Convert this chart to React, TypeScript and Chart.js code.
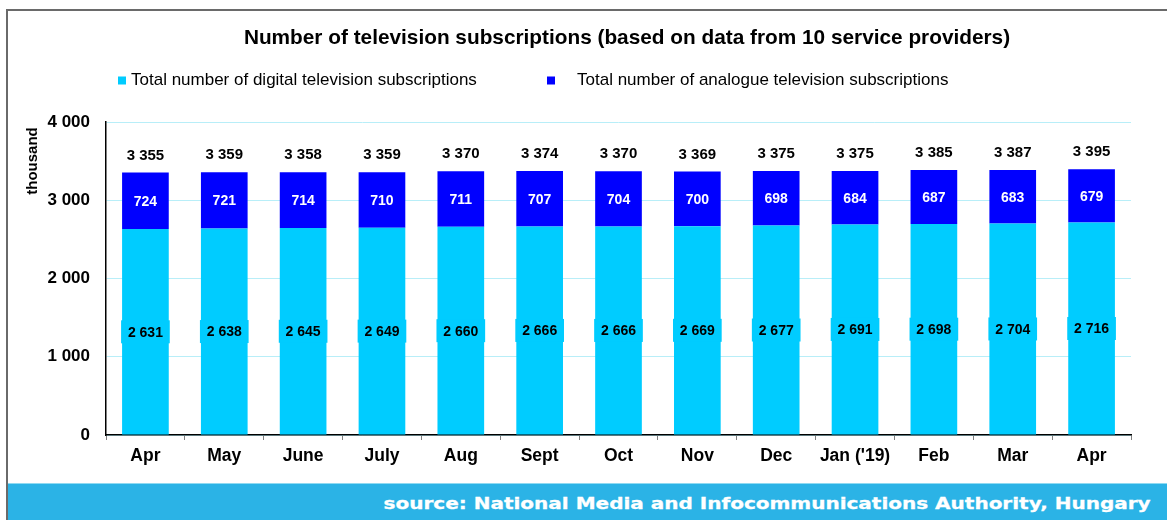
import React, { useEffect, useRef } from "react";
import { Chart, registerables } from "chart.js";

Chart.register(...registerables);

const categories = ["Apr", "May", "June", "July", "Aug", "Sept", "Oct", "Nov", "Dec", "Jan ('19)", "Feb", "Mar", "Apr"];
const digitalValues = [2631, 2638, 2645, 2649, 2660, 2666, 2666, 2669, 2677, 2691, 2698, 2704, 2716];
const analogueValues = [724, 721, 714, 710, 711, 707, 704, 700, 698, 684, 687, 683, 679];
const totalValues = [3355, 3359, 3358, 3359, 3370, 3374, 3370, 3369, 3375, 3375, 3385, 3387, 3395];
const seriesLabels = [
  "Total number of digital television subscriptions",
  "Total number of analogue television subscriptions",
];
const yMin = 0;
const yMax = 4000;
const yStep = 1000;
const titleText = "Number of television subscriptions (based on data from 10 service providers)";
const axisTitle = "thousand";
const sourceText = "source: National Media and Infocommunications Authority, Hungary";

const FONT = "'Liberation Sans', Arial, sans-serif";
const DIGITAL = "#00ccff";
const ANALOGUE = "#0000ff";

const fmt = (v: number) => String(Math.round(v)).replace(/\B(?=(\d{3})+(?!\d))/g, " ");

const decorPlugin = {
  id: "decor",
  afterDatasetsDraw(chart: any) {
    const ctx = chart.ctx;
    ctx.save();
    ctx.textAlign = "center";
    ctx.textBaseline = "middle";
    const m0 = chart.getDatasetMeta(0);
    const m1 = chart.getDatasetMeta(1);
    m0.data.forEach((bar: any, i: number) => {
      const w = bar.width + 2;
      const cy = (bar.y + bar.base) / 2;
      ctx.fillStyle = DIGITAL;
      ctx.fillRect(bar.x - w / 2, cy - 11.5, w, 23);
      ctx.fillStyle = "#000";
      ctx.font = `bold 14px ${FONT}`;
      ctx.fillText(fmt(digitalValues[i]), bar.x, cy + 1);
    });
    m1.data.forEach((bar: any, i: number) => {
      const cy = (bar.y + bar.base) / 2;
      ctx.fillStyle = "#fff";
      ctx.font = `bold 14px ${FONT}`;
      ctx.fillText(fmt(analogueValues[i]), bar.x, cy + 1);
      ctx.fillStyle = "#000";
      ctx.font = `bold 15px ${FONT}`;
      ctx.fillText(fmt(totalValues[i]), bar.x, bar.y - 17);
    });
    ctx.restore();
  },
  afterDraw(chart: any) {
    const ctx = chart.ctx;
    ctx.save();
    // title
    ctx.fillStyle = "#000";
    ctx.font = `bold 20.8px ${FONT}`;
    ctx.textAlign = "center";
    ctx.textBaseline = "middle";
    ctx.fillText(titleText, 627, 38);
    // legend
    ctx.font = `17px ${FONT}`;
    ctx.textAlign = "left";
    const items = [
      { box: 118, text: 131 },
      { box: 547, text: 577 },
    ];
    chart.data.datasets.forEach((ds: any, i: number) => {
      const it = items[i];
      ctx.fillStyle = ds.backgroundColor;
      ctx.fillRect(it.box, 76.5, 8, 8);
      ctx.fillStyle = "#000";
      ctx.fillText(ds.label, it.text, 80);
    });
    // axis title
    ctx.translate(33, 161);
    ctx.rotate(-Math.PI / 2);
    ctx.textAlign = "center";
    ctx.font = `bold 15px ${FONT}`;
    ctx.fillText(axisTitle, 0, 0);
    ctx.restore();
  },
};

export default function App() {
  const ref = useRef<HTMLCanvasElement | null>(null);

  useEffect(() => {
    document.body.style.margin = "0";
    const canvas = ref.current;
    if (!canvas) return;
    const chart = new Chart(canvas, {
      type: "bar",
      data: {
        labels: categories,
        datasets: [
          {
            label: seriesLabels[0],
            data: digitalValues,
            backgroundColor: DIGITAL,
            barPercentage: 0.592,
            categoryPercentage: 1,
          },
          {
            label: seriesLabels[1],
            data: analogueValues,
            backgroundColor: ANALOGUE,
            barPercentage: 0.592,
            categoryPercentage: 1,
          },
        ],
      },
      options: {
        responsive: false,
        animation: false,
        devicePixelRatio: 1,
        layout: { padding: { left: 0, right: 36, top: 122, bottom: 37 } },
        plugins: {
          legend: { display: false },
          title: { display: false },
          tooltip: { enabled: false },
        },
        scales: {
          x: {
            stacked: true,
            grid: {
              display: true,
              drawOnChartArea: false,
              drawTicks: true,
              tickLength: 5,
              color: "#808080",
              offset: true,
            },
            border: { display: true, color: "#000", width: 1.5 },
            ticks: {
              color: "#000",
              font: { family: FONT, size: 17.5, weight: "bold" },
              padding: 6,
              maxRotation: 0,
              autoSkip: false,
            },
            afterFit: (s: any) => {
              s.height = 48;
            },
          },
          y: {
            stacked: true,
            min: yMin,
            max: yMax,
            grid: {
              color: "#b8eef8",
              drawTicks: false,
              lineWidth: 1,
            },
            border: { display: true, color: "#000", width: 1.5 },
            ticks: {
              stepSize: yStep,
              color: "#000",
              padding: 16,
              font: { family: FONT, size: 17, weight: "bold" },
              callback: (v: any) => fmt(Number(v)),
            },
            afterFit: (s: any) => {
              s.width = 106;
            },
          },
        },
      },
      plugins: [decorPlugin],
    } as any);
    return () => chart.destroy();
  }, []);

  return (
    <div style={{ position: "absolute", left: 0, top: 0, width: 1167, height: 520, background: "#fff", overflow: "hidden" }}>
      <canvas ref={ref} width={1167} height={520} style={{ position: "absolute", left: 0, top: 0, width: 1167, height: 520 }} />
      <div style={{ position: "absolute", left: 6, top: 9, width: 1161, height: 511, borderTop: "2px solid #6a6a6a", borderLeft: "2px solid #6a6a6a", pointerEvents: "none", boxSizing: "border-box" }} />
      <div
        style={{
          position: "absolute",
          left: 8,
          top: 483,
          width: 1159,
          height: 37,
          background: "#2bb3e6",
          borderTop: "1px solid #8fdaf2",
          boxSizing: "border-box",
          overflow: "hidden",
        }}
      >
        <div
          style={{
            position: "absolute",
            right: 16,
            top: 1,
            color: "#fff",
            fontFamily: "'DejaVu Sans', Verdana, sans-serif",
            fontWeight: "bold",
            fontSize: 16,
            lineHeight: "38px",
            whiteSpace: "nowrap",
            transform: "scaleX(1.25)",
            transformOrigin: "right center",
            WebkitTextStroke: "0.3px #fff",
          }}
        >
          {sourceText}
        </div>
      </div>
    </div>
  );
}
